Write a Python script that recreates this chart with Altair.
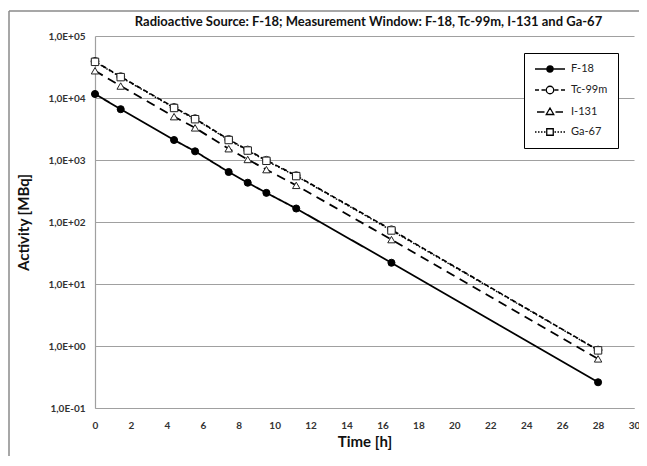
import altair as alt
import pandas as pd

# ---- data ----
times = [0.0, 1.43, 4.4, 5.57, 7.44, 8.5, 9.54, 11.2, 16.5, 28.0]
f18 = [11600, 6600, 2100, 1380, 640, 430, 295, 165, 22.0, 0.26]
tc99m = [39000, 22100, 7050, 4650, 2150, 1450, 990, 560, 75, 0.86]
i131 = [27500, 15600, 5000, 3300, 1520, 1020, 700, 390, 52, 0.62]
ga67 = [38300, 21700, 6900, 4550, 2100, 1420, 970, 550, 73, 0.85]
series_names = ["F-18", "Tc-99m", "I-131", "Ga-67"]
series_values = [f18, tc99m, i131, ga67]
y_ticks = [0.1, 1, 10, 100, 1000, 10000, 100000]
x_ticks = list(range(0, 31, 2))

rows = []
for name, vals in zip(series_names, series_values):
    for t, v in zip(times, vals):
        rows.append({"series": name, "time": t, "activity": v})
df = pd.DataFrame(rows)

W, H = 539, 372
FONT = "Lato"
GRID = "#a0a0a0"

x_enc = alt.X(
    "time:Q",
    scale=alt.Scale(domain=[0, 30], nice=False),
    axis=alt.Axis(
        values=x_ticks, grid=False, ticks=False, title="Time [h]",
        labelPadding=12, labelFont=FONT, labelFontSize=10, labelFontWeight="bold",
        labelColor="#333333", domainColor=GRID, domainWidth=1.2,
        titleFont=FONT, titleFontSize=15, titleFontWeight="bold", titleColor="#111111",
        titleY=33, titleBaseline="middle", labelFlush=False,
    ),
)
y_label_expr = (
    "'1,0E' + (round(log(datum.value)/LN10) >= 0 ? '+' : '-') + "
    "(abs(round(log(datum.value)/LN10)) < 10 ? '0' : '') + abs(round(log(datum.value)/LN10))"
)
y_enc = alt.Y(
    "activity:Q",
    scale=alt.Scale(type="log", domain=[0.1, 100000], nice=False),
    axis=alt.Axis(
        values=y_ticks, labelExpr=y_label_expr, grid=True, gridColor=GRID, gridWidth=1.2,
        ticks=False, domainColor=GRID, domainWidth=1.2, title="Activity [MBq]",
        labelPadding=10, labelFont=FONT, labelFontSize=10, labelFontWeight="bold",
        labelColor="#333333", labelFlush=False,
        titleFont=FONT, titleFontSize=15, titleFontWeight="bold", titleColor="#111111",
        titleX=-72, titleBaseline="middle",
    ),
)

base = alt.Chart(df).encode(x=x_enc, y=y_enc)

line_dash = {"F-18": [1, 0], "Tc-99m": [5, 3], "I-131": [9, 6], "Ga-67": [1.5, 1.8]}
line_width = {"F-18": 1.8, "Tc-99m": 1.6, "I-131": 1.8, "Ga-67": 1.4}

layers = []
for name in series_names:
    layers.append(
        base.transform_filter(alt.datum.series == name).mark_line(
            color="black", strokeDash=line_dash[name], strokeWidth=line_width[name]
        )
    )

marker_style = {
    "F-18": dict(shape="circle", size=50, fill="black", stroke="black", strokeWidth=1),
    "Tc-99m": dict(shape="circle", size=62, fill="white", stroke="#222222", strokeWidth=1),
    "I-131": dict(shape="triangle-up", size=55, fill="white", stroke="#222222", strokeWidth=1),
    "Ga-67": dict(shape="square", size=55, fill="white", stroke="#222222", strokeWidth=1),
}
for name in series_names:
    layers.append(
        base.transform_filter(alt.datum.series == name).mark_point(
            filled=True, opacity=1, **marker_style[name]
        )
    )


# ---- legend symbols: line sample + marker as custom paths (unit = 5 px) ----
def circ(cx, r):
    return f"M{cx + r},0A{r},{r} 0 1,1 {cx - r},0A{r},{r} 0 1,1 {cx + r},0Z"


def segs(pairs):
    return "".join(f"M{a},0H{b}" for a, b in pairs)


legend_paths = [
    segs([(-1, 5)]) + circ(2, 0.62) + circ(2, 0.38) + circ(2, 0.14),
    segs([(-1, -0.2), (0.3, 1.1), (2.9, 3.7), (4.2, 5)]) + circ(2, 0.75),
    segs([(-0.6, 0.9), (3.1, 4.6)]) + "M2,-0.8L2.75,0.5L1.25,0.5Z",
    segs([(-1, -0.7), (-0.4, -0.1), (0.2, 0.5), (0.8, 1.1), (2.9, 3.2), (3.5, 3.8), (4.1, 4.4), (4.7, 5)])
    + "M1.35,-0.65H2.65V0.65H1.35Z",
]

legend_layer = alt.Chart(df).mark_point(opacity=0).encode(
    x=x_enc,
    y=y_enc,
    shape=alt.Shape(
        "series:N",
        scale=alt.Scale(domain=series_names, range=legend_paths),
        legend=alt.Legend(
            title=None, orient="none", legendX=429, legendY=17,
            padding=10, fillColor="white", strokeColor="black",
            labelFont=FONT, labelFontSize=11, labelColor="#222222", labelOffset=25,
            rowPadding=8, symbolSize=100, symbolStrokeWidth=1.3,
            symbolStrokeColor="black", symbolOpacity=1,
        ),
    ),
)
layers.append(legend_layer)

frame_df = pd.DataFrame({"k": [0]})
frame_left = alt.Chart(frame_df).mark_rule(color="#8a8a8a", strokeWidth=1.5).encode(
    x=alt.value(-86), y=alt.value(-25), y2=alt.value(H + 48)
)
frame_top = alt.Chart(frame_df).mark_rule(color="#8a8a8a", strokeWidth=1.5).encode(
    x=alt.value(-86), x2=alt.value(W + 5), y=alt.value(-25)
)
layers = [frame_left, frame_top] + layers

chart = (
    alt.layer(*layers)
    .properties(
        width=W,
        height=H,
        padding={"left": 87, "top": 28, "right": 5, "bottom": 48},
        autosize=alt.AutoSizeParams(type="none"),
        title=alt.TitleParams(
            "Radioactive Source:  F-18; Measurement Window: F-18, Tc-99m, I-131 and Ga-67",
            font=FONT, fontSize=13, fontWeight="bold", color="#111111",
            anchor="middle", frame="group", offset=5, dx=4, dy=24,
        ),
    )
    .configure_view(strokeWidth=0)
)

chart.save("out.html", embed_options={"renderer": "svg", "actions": False})
